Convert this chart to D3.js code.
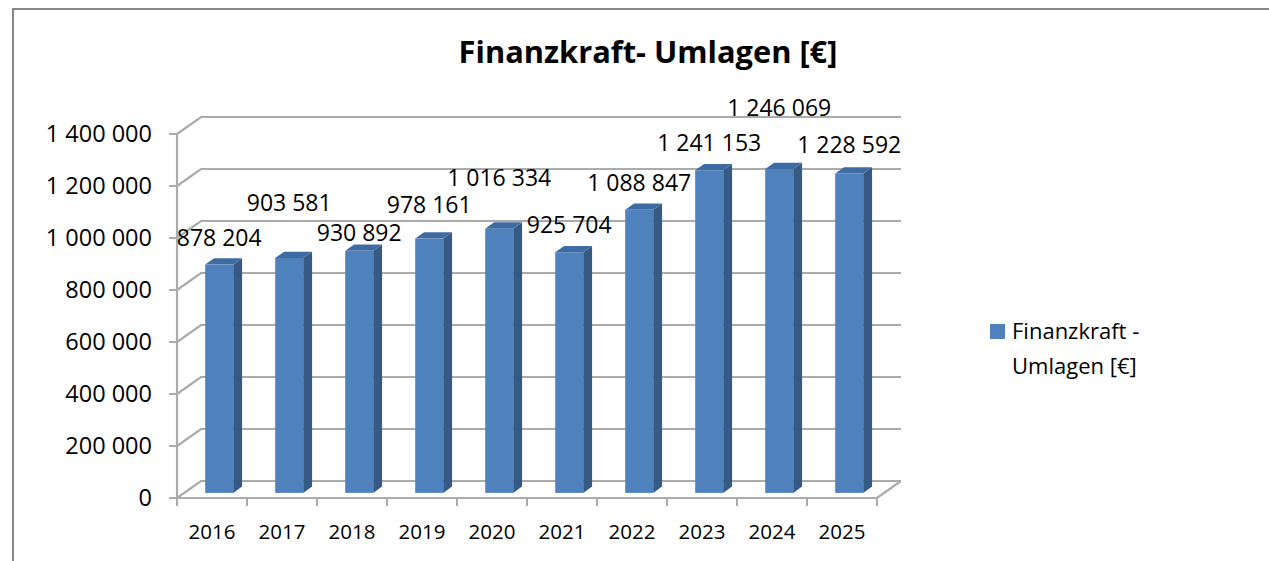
<!DOCTYPE html>
<html>
<head>
<meta charset="utf-8">
<script src="https://cdn.jsdelivr.net/npm/d3@7"></script>
<style>
  html, body { margin: 0; padding: 0; background: #fff; }
  svg text { font-family: "Open Sans", "Liberation Sans", sans-serif; fill: #000; }
</style>
</head>
<body>
<svg id="chart" width="1269" height="561"></svg>
<script>
"use strict";

// values
const years = ["2016", "2017", "2018", "2019", "2020", "2021", "2022", "2023", "2024", "2025"];
const umlagen = [878204, 903581, 930892, 978161, 1016334, 925704, 1088847, 1241153, 1246069, 1228592];
const yTicks = [0, 200000, 400000, 600000, 800000, 1000000, 1200000, 1400000];
const seriesName = ["Finanzkraft -", "Umlagen [€]"];
const title = "Finanzkraft- Umlagen [€]";

// label lift above the bar top (px), Excel moved some of them to avoid overlap
const labelLift = [27, 55, 18, 34, 51, 27, 27, 27, 61, 29];

const svg = d3.select("#chart");

// space separated thousands like the German Excel format
const fmt = v => d3.format(",")(v).replace(/,/g, " ");

// 3D depth offset of the back wall
const depth = { dx: 24, dy: -17 };
const barDepth = { start: 0.3, end: 0.67 };

const x = d3.scaleBand().domain(years).range([177, 877]).paddingInner(0).paddingOuter(0);
const y = d3.scaleLinear().domain([0, 1400000]).range([498, 134]);

// outer frame (cropped on the right and bottom)
svg.append("rect")
    .attr("x", 13).attr("y", 9)
    .attr("width", 1400).attr("height", 700)
    .attr("fill", "none")
    .attr("stroke", "#878787")
    .attr("stroke-width", 2);

// title, scaled to the width it has in the reference
const titleText = svg.append("text")
    .attr("x", 648).attr("y", 63)
    .attr("text-anchor", "middle")
    .attr("font-weight", "bold")
    .attr("font-size", 26)
    .text(title);
const tw = titleText.node().getComputedTextLength();
titleText.attr("font-size", 26 * 379 / tw);

const grid = svg.append("g")
    .attr("fill", "none")
    .attr("stroke", "#ababab")
    .attr("stroke-width", 2.2);

const x0 = x.range()[0], x1 = x.range()[1];

// back wall lines + left wall diagonals
yTicks.forEach(t => {
    const yy = y(t);
    grid.append("path")
        .attr("d", d3.line()([[x0, yy], [x0 + depth.dx, yy + depth.dy], [x1 + depth.dx, yy + depth.dy]]));
});
// floor
grid.append("path")
    .attr("d", d3.line()([[x0, y(0)], [x1, y(0)], [x1 + depth.dx, y(0) + depth.dy]]));
// vertical axis
grid.append("line")
    .attr("x1", x0).attr("x2", x0)
    .attr("y1", y(1400000)).attr("y2", y(0));

// y ticks and labels
const yAxis = svg.append("g");
yTicks.forEach(t => {
    yAxis.append("line")
        .attr("x1", x0 - 8).attr("x2", x0)
        .attr("y1", y(t)).attr("y2", y(t))
        .attr("stroke", "#ababab").attr("stroke-width", 2);
    yAxis.append("text")
        .attr("x", 152).attr("y", y(t))
        .attr("dy", "0.36em")
        .attr("text-anchor", "end")
        .attr("font-size", 23.5)
        .text(fmt(t));
});

// x ticks and labels
const xAxis = svg.append("g");
d3.range(years.length + 1).forEach(i => {
    const xx = x0 + i * x.bandwidth();
    xAxis.append("line")
        .attr("x1", xx).attr("x2", xx)
        .attr("y1", y(0)).attr("y2", y(0) + 8)
        .attr("stroke", "#ababab").attr("stroke-width", 2);
});
years.forEach(yr => {
    xAxis.append("text")
        .attr("x", x(yr) + x.bandwidth() / 2)
        .attr("y", 539)
        .attr("text-anchor", "middle")
        .attr("font-size", 20.5)
        .text(yr);
});

// 3D bars
const bw = x.bandwidth() * 0.4;
const fdx = depth.dx * barDepth.start, fdy = depth.dy * barDepth.start;
const sdx = depth.dx * (barDepth.end - barDepth.start), sdy = depth.dy * (barDepth.end - barDepth.start);

const bars = svg.append("g").selectAll("g")
    .data(years.map((yr, i) => ({ year: yr, value: umlagen[i], i: i })))
    .join("g");

bars.each(function (d) {
    const g = d3.select(this);
    const left = x(d.year) + (x.bandwidth() - bw) / 2 + fdx;
    const right = left + bw;
    const top = y(d.value) + fdy;
    const bottom = y(0) + fdy;
    // side face
    g.append("path")
        .attr("d", d3.line()([[right, top], [right + sdx, top + sdy], [right + sdx, bottom + sdy], [right, bottom]]) + "Z")
        .attr("fill", "#375a85");
    // top face
    g.append("path")
        .attr("d", d3.line()([[left, top], [left + sdx, top + sdy], [right + sdx, top + sdy], [right, top]]) + "Z")
        .attr("fill", "#3f6ba3");
    // front face
    g.append("rect")
        .attr("x", left).attr("y", top)
        .attr("width", bw).attr("height", bottom - top)
        .attr("fill", "#4f81bd");
});

// data labels
bars.append("text")
    .attr("x", d => x(d.year) + x.bandwidth() / 2 + fdx)
    .attr("y", d => y(d.value) + fdy - labelLift[d.i])
    .attr("dy", "0.36em")
    .attr("text-anchor", "middle")
    .attr("font-size", 23)
    .text(d => fmt(d.value));

// legend
const legend = svg.append("g");
legend.append("rect")
    .attr("x", 990).attr("y", 324)
    .attr("width", 15).attr("height", 15)
    .attr("fill", "#4f81bd");
legend.selectAll("text")
    .data(seriesName)
    .join("text")
    .attr("x", 1012)
    .attr("y", (d, i) => 339 + i * 35)
    .attr("font-size", 22)
    .text(d => d);
</script>
</body>
</html>
